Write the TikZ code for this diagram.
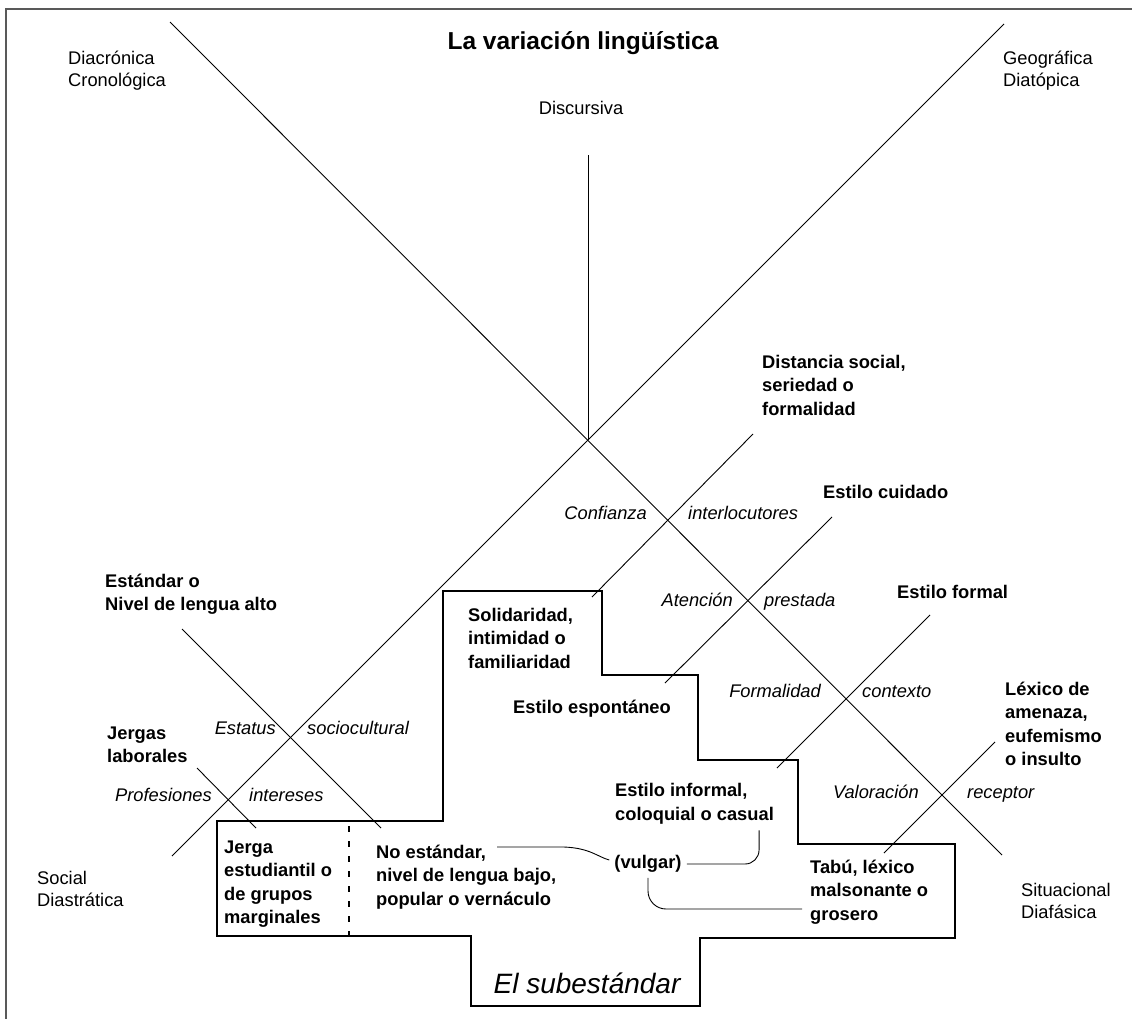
\documentclass[tikz,border=0pt]{standalone}
\usepackage{fontspec}
\setmainfont{Liberation Sans}
\usetikzlibrary{positioning}
\usetikzlibrary{calc}

\tikzset{
    axis/.style={line width=0.9pt},
    zone/.style={line width=1.6pt},
    regtext/.style={font=\fontsize{18.3}{22}\selectfont, align=left, inner sep=0pt},
    regbold/.style={font=\fontsize{18.3}{23.5}\selectfont\bfseries, align=left, inner sep=0pt, anchor=west},
    axtext/.style={font=\fontsize{18.3}{22}\selectfont\itshape, inner sep=0pt, text height=12pt, text depth=3pt},
}

\begin{document}
\begin{tikzpicture}[x=1pt, y=-1pt]
    \useasboundingbox (0,0) rectangle (1132,1018);
    \draw[line width=2pt, black!65] (6,1020) -- (6,9) -- (1134,9);

    \node[font=\fontsize{24.5}{29}\selectfont\bfseries] (title) at (583,43) {La variación lingüística};
    \node[regtext, anchor=west] (diacr) at (68,71) {Diacrónica\\Cronológica};
    \node[regtext, anchor=west] (geogr) at (1003,71) {Geográfica\\Diatópica};
    \node[regtext] (discur) at (581,108) {Discursiva};
    \node[regtext, anchor=west] (social) at (37,889) {Social\\Diastrática};
    \node[regtext, anchor=west] (situac) at (1021,901) {Situacional\\Diafásica};

    % the big cross and the vertical branch
    \coordinate (centre) at (588,440);
    \draw[axis] (170,22) -- (1002,855);
    \draw[axis] (1004,24) -- (172,856);
    \draw[axis] (588,155) -- (centre);

    \foreach \xa/\ya/\xb/\yb in {753/434/592/597, 832/517/665/683, 930/615/777/768, 995/742/884/853, 182/629/381/828, 197/768/256/828}
        \draw[axis] (\xa,\ya) -- (\xb,\yb);

    \foreach \name/\x/\y/\side/\word in {conf/647/515/east/Confianza, inter/688/515/west/interlocutores, aten/733/602/east/Atención, prest/764/602/west/prestada, formal/821/693/east/Formalidad, cont/862/693/west/contexto, valor/919/794/east/Valoración, recep/967/794/west/receptor, estat/276/730/east/Estatus, socio/307/730/west/sociocultural, prof/212/797/east/Profesiones, inter2/249/797/west/intereses}
        \node[axtext, anchor=\side] (\name) at (\x,\y) {\word};

    % register labels
    \node[regbold] (distan) at (762,385) {Distancia social,\\seriedad o\\formalidad};
    \node[regbold] (cuidad) at (823,492) {Estilo cuidado};
    \node[regbold] (stform) at (897,592) {Estilo formal};
    \node[regbold] (lexico) at (1005,724) {Léxico de\\amenaza,\\eufemismo\\o insulto};
    \node[regbold] (standa) at (105,594) {Estándar o\\Nivel de lengua alto};
    \node[regbold] (jerlab) at (107,745) {Jergas\\laborales};
    \node[regbold] (solida) at (468,638) {Solidaridad,\\intimidad o\\familiaridad};
    \node[regbold] (espont) at (513,709) {Estilo espontáneo};
    \node[regbold] (inform) at (615,804) {Estilo informal,\\coloquial o casual};
    \node[regbold] (tabu) at (810,892) {Tabú, léxico\\malsonante o\\grosero};
    \node[regbold] (jerest) at (224,884) {Jerga\\estudiantil o\\de grupos\\marginales};
    \node[regbold] (noest) at (376,877) {No estándar,\\nivel de lengua bajo,\\popular o vernáculo};
    \node[regbold, anchor=center, inner sep=5pt] (vulg) at (648,864) {(vulgar)};

    % el subestandar
    \draw[zone] (217,821) -- (443,821) -- (443,591) -- (602,591) -- (602,675) -- (698,675) -- (698,760) -- (798,760) -- (798,844) -- (955,844) -- (955,938) -- (700,938) -- (700,1006) -- (471,1006) -- (471,936) -- (217,936) -- cycle;
    \draw[line width=1.2pt, dash pattern=on 6pt off 9pt] (349,826) -- (349,936);
    \node[font=\fontsize{28}{32}\selectfont\itshape] (subest) at (587,983) {El subestándar};

    % Drawing the connectors of (vulgar)
    \coordinate (noest-end) at (497,847);
    \draw[axis] (noest-end) -- (564,847) .. controls (590,848) and (598,857) .. ([yshift=4pt]vulg.west);
    \draw[axis, rounded corners=14pt] (vulg.east) -| ([xshift=-15pt, yshift=-6pt]inform.south east);
    \draw[axis, rounded corners=18pt] (vulg.south) |- ([xshift=-8pt, yshift=-17pt]tabu.west);
\end{tikzpicture}
\end{document}
